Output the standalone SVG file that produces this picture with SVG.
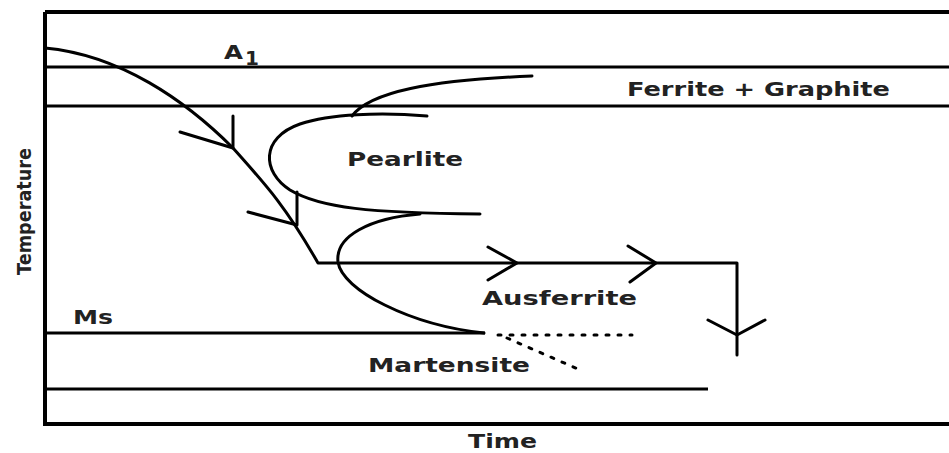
<svg xmlns="http://www.w3.org/2000/svg" width="949" height="453" viewBox="0 0 949 453">
  <style>
    .axis { fill: none; stroke: #000; stroke-width: 4; }
    .line { fill: none; stroke: #000; stroke-width: 3; stroke-linecap: butt; }
    .curve { fill: none; stroke: #000; stroke-width: 3; stroke-linecap: round; stroke-linejoin: round; }
    .dots { fill: none; stroke: #000; stroke-width: 3; stroke-dasharray: 3 9; stroke-linecap: round; }
    .lbl { font-family: "DejaVu Sans", Verdana, sans-serif; font-weight: bold; font-size: 20px; fill: #222; }
  </style>
  <rect width="949" height="453" fill="#fff"/>

  <!-- axes -->
  <g id="axes">
    <path class="axis" d="M45,12 V424 H949"/>
    <path class="axis" d="M45,12 H949"/>
  </g>

  <!-- temperature levels -->
  <g id="levels">
    <line class="line" x1="45" y1="67" x2="949" y2="67"/>
    <line class="line" x1="45" y1="106" x2="949" y2="106"/>
    <line class="line" x1="45" y1="333" x2="485" y2="333"/>
    <line class="line" x1="45" y1="389" x2="708" y2="389"/>
  </g>

  <!-- transformation curves -->
  <g id="graphite-start">
    <path class="curve" d="M352,116 C370,92 430,80 532,76"/>
  </g>
  <g id="pearlite-curve">
    <path class="curve" d="M427,116 C380,112 330,114 300,124 C260,138 262,172 290,190 C320,208 370,213 480,214"/>
  </g>
  <g id="ausferrite-curve">
    <path class="curve" d="M420,214 C370,218 335,236 338,262 C342,290 410,325 484,333"/>
  </g>
  <g id="martensite-dots">
    <path class="dots" d="M498,335 H632"/>
    <path class="dots" d="M507,338 L578,369"/>
  </g>

  <!-- cooling path with arrows -->
  <g id="connectors">
    <path class="curve" d="M45,48 C120,55 185,100 233,148 C265,184 285,205 318,263 H737 V355"/>
    <path class="curve" d="M233,116 V148 L180,132"/>
    <path class="curve" d="M297,192 V225 L248,212"/>
    <path class="curve" d="M488,247 L517,263 L488,280"/>
    <path class="curve" d="M628,246 L656,263 L630,282"/>
    <path class="curve" d="M708,320 L737,335 L765,320"/>
  </g>

  <!-- labels -->
  <g id="labels">
    <text class="lbl" x="224" y="59" textLength="19" lengthAdjust="spacingAndGlyphs">A</text>
    <text class="lbl" x="245" y="65" font-size="13">1</text>
    <text class="lbl" x="627" y="96" textLength="263" lengthAdjust="spacingAndGlyphs">Ferrite + Graphite</text>
    <text class="lbl" x="347" y="166" textLength="116" lengthAdjust="spacingAndGlyphs">Pearlite</text>
    <text class="lbl" x="482" y="305" textLength="155" lengthAdjust="spacingAndGlyphs">Ausferrite</text>
    <text class="lbl" x="368" y="372" textLength="162" lengthAdjust="spacingAndGlyphs">Martensite</text>
    <text class="lbl" x="73" y="324" textLength="40" lengthAdjust="spacingAndGlyphs">Ms</text>
    <text class="lbl" x="468" y="448" font-size="19" textLength="69" lengthAdjust="spacingAndGlyphs">Time</text>
    <text class="lbl" transform="translate(31,275) rotate(-90)" textLength="127" lengthAdjust="spacingAndGlyphs" font-size="22">Temperature</text>
  </g>
</svg>
